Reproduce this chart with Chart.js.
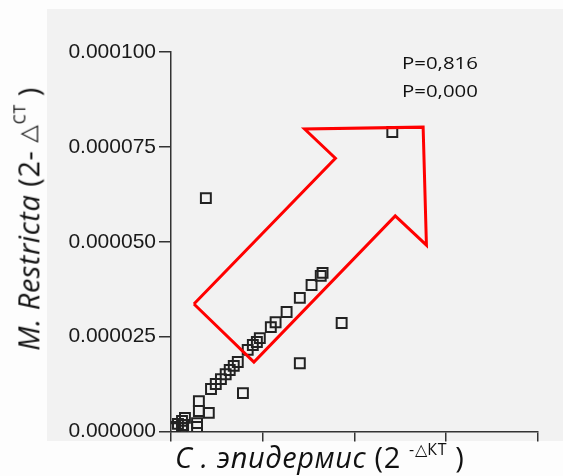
<!DOCTYPE html>
<html>
<head>
<meta charset="utf-8">
<script src="https://cdn.jsdelivr.net/npm/chart.js@4/dist/chart.umd.min.js"></script>
<style>
  html, body { margin: 0; padding: 0; background: #fdfdfd; }
  #wrap { position: relative; width: 563px; height: 476px; overflow: hidden; }
  #panel { position: absolute; left: 47px; top: 9px; width: 516px; height: 432px; background: #f2f2f2; }
  #c { position: absolute; left: 0; top: 0; }
  .title { position: absolute; white-space: nowrap; font-family: "Open Sans", sans-serif; color: #111; line-height: 1; }
  .tri { font-family: "DejaVu Sans", sans-serif; font-weight: 200; }
  #ytitle { left: 28px; top: 219px; font-size: 29px; letter-spacing: 0.5px; transform: translate(-50%, -50%) rotate(-90deg); }
  #xtitle { left: 175px; top: 442px; font-size: 29px; letter-spacing: 0.6px; }
  .sup { position: relative; font-size: 0.55em; vertical-align: baseline; }
  #stats { position: absolute; left: 402px; top: 49px; font-family: "Open Sans", sans-serif; font-size: 17px; line-height: 28px; color: #111; transform: scaleX(1.2); transform-origin: left top; }
</style>
</head>
<body>
<div id="wrap">
  <div id="panel"></div>
  <canvas id="c" width="563" height="476"></canvas>
  <div class="title" id="ytitle"><i>M. Restricta</i> (2- <span class="tri" style="position:relative;top:-0.18em;font-size:0.8em;">△</span><span class="sup" style="top:-0.85em;">CT</span> )</div>
  <div class="title" id="xtitle"><i>C . эпидермис</i> (2 <span class="sup" style="top:-0.8em;">-<span class="tri">△</span>КТ</span> )</div>
  <div id="stats">P=0,816<br>P=0,000</div>
</div>
<script>
// C. epidermis expression (2^-ΔCT), one value per sample
const epidermis = [
  60.3e-6, 9.5e-6, 41.3e-6, 40.8e-6, 38.3e-6, 35.1e-6, 31.5e-6, 28.5e-6, 27.2e-6, 46.5e-6,
  24.2e-6, 23.4e-6, 22.3e-6, 20.9e-6, 35.1e-6, 18.2e-6, 17.1e-6, 16.0e-6, 14.9e-6, 13.6e-6,
  12.2e-6, 10.9e-6, 19.6e-6, 7.6e-6, 7.6e-6, 10.3e-6, 3.8e-6, 3.0e-6, 1.9e-6, 1.1e-6,
  3.3e-6, 7.1e-6, 7.1e-6, 0.5e-6, 3.0e-6
];
// M. restricta expression (2^-ΔCT), same samples
const restricta = [
  78.9e-6, 61.5e-6, 41.8e-6, 41.0e-6, 38.6e-6, 35.2e-6, 31.5e-6, 28.8e-6, 27.5e-6, 28.6e-6,
  24.6e-6, 23.6e-6, 22.8e-6, 21.5e-6, 18.0e-6, 18.3e-6, 17.3e-6, 16.2e-6, 15.1e-6, 13.8e-6,
  12.5e-6, 11.2e-6, 10.1e-6, 8.0e-6, 5.4e-6, 4.9e-6, 3.6e-6, 2.8e-6, 2.0e-6, 1.2e-6,
  1.7e-6, 2.2e-6, 1.2e-6, 0.9e-6, 0.9e-6
];
// Y axis tick labels
const yTickLabels = ['0.000000', '0.000025', '0.000050', '0.000075', '0.000100'];
// Outline of the trend arrow, in data units (x, y)
const arrowX = [6.25e-6, 44.8e-6, 36.4e-6, 68.7e-6, 69.6e-6, 61.1e-6, 22.6e-6, 6.25e-6];
const arrowY = [33.6e-6, 72.0e-6, 79.7e-6, 80.2e-6, 49.1e-6, 56.8e-6, 18.3e-6, 33.6e-6];

const points = epidermis.map((x, i) => ({ x, y: restricta[i] }));
const arrow = arrowX.map((x, i) => ({ x, y: arrowY[i] }));

const AXIS = '#333333';

new Chart(document.getElementById('c'), {
  type: 'scatter',
  data: {
    datasets: [
      {
        data: arrow,
        showLine: true,
        fill: false,
        borderColor: '#ff0000',
        borderWidth: 3,
        borderJoinStyle: 'miter',
        pointRadius: 0,
        order: 0
      },
      {
        data: points,
        pointStyle: 'rect',
        pointRadius: 7,
        pointBorderWidth: 2,
        pointBorderColor: '#222222',
        pointBackgroundColor: 'rgba(0,0,0,0)',
        order: 1
      }
    ]
  },
  options: {
    responsive: false,
    animation: false,
    events: [],
    layout: { padding: { top: 52, right: 25, left: 0, bottom: 0 } },
    plugins: { legend: { display: false }, tooltip: { enabled: false } },
    scales: {
      x: {
        type: 'linear',
        min: 0,
        max: 0.0001,
        ticks: { stepSize: 0.000025, display: false },
        grid: { drawOnChartArea: false, drawTicks: true, tickLength: 10, color: AXIS, lineWidth: 1.5 },
        border: { display: true, color: AXIS, width: 1.5 },
        afterFit: s => { s.height = 44.5; }
      },
      y: {
        type: 'linear',
        min: 0,
        max: 0.0001,
        ticks: {
          stepSize: 0.000025,
          padding: 3,
          color: '#1a1a1a',
          font: { family: '"Liberation Sans", Arial, sans-serif', size: 21 },
          callback: (v, i) => yTickLabels[i]
        },
        grid: { drawOnChartArea: false, drawTicks: true, tickLength: 12, color: AXIS, lineWidth: 1.5 },
        border: { display: true, color: AXIS, width: 1.5 },
        afterFit: s => { s.width = 171; }
      }
    }
  }
});
</script>
</body>
</html>
